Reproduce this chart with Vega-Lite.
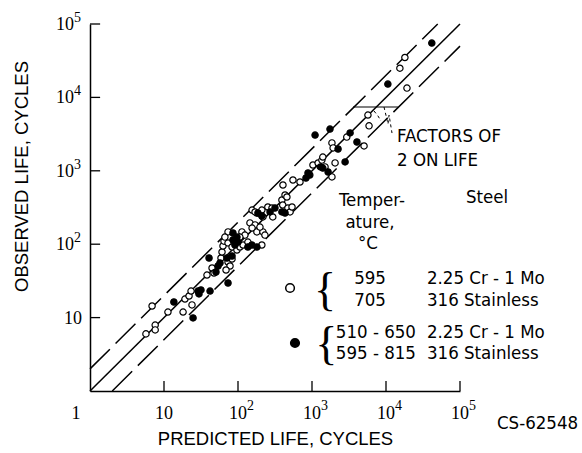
{
  "$schema": "https://vega.github.io/schema/vega-lite/v6.json",
  "width": 370,
  "height": 367,
  "autosize": {"type": "none"},
  "padding": {"left": 90, "top": 24, "right": 122, "bottom": 62},
  "background": "white",
  "config": {
    "view": {"stroke": null},
    "axis": {
      "grid": false,
      "domainColor": "black",
      "domainWidth": 1.5,
      "ticks": false,
      "labels": false,
      "titleColor": "black",
      "titleFont": "Liberation Sans",
      "titleFontSize": 18.5,
      "titleFontWeight": "normal"
    }
  },
  "encoding": {
    "x": {
      "field": "x", "type": "quantitative",
      "scale": {"type": "log", "domain": [1, 100000], "nice": false, "zero": false},
      "axis": {
        "values": [1, 10, 100, 1000, 10000, 100000],
        "title": "PREDICTED LIFE, CYCLES",
        "titleY": 47,
        "titleBaseline": "middle"
      }
    },
    "y": {
      "field": "y", "type": "quantitative",
      "scale": {"type": "log", "domain": [1, 100000], "nice": false, "zero": false},
      "axis": {
        "values": [10, 100, 1000, 10000, 100000],
        "title": "OBSERVED LIFE, CYCLES",
        "titleX": -69,
        "titleY": 152,
        "titleBaseline": "middle",
        "titleAlign": "center"
      }
    }
  },
  "layer": [
    {
      "data": {"values": [
        {"x": 10, "y": 1, "y2": 1.37}, {"x": 100, "y": 1, "y2": 1.37}, {"x": 1000, "y": 1, "y2": 1.37},
        {"x": 10000, "y": 1, "y2": 1.37}, {"x": 100000, "y": 1, "y2": 1.37}
      ]},
      "mark": {"type": "rule", "color": "black", "strokeWidth": 1.3},
      "encoding": {"y2": {"field": "y2"}}
    },
    {
      "data": {"values": [
        {"x": 1, "x2": 1.37, "y": 10}, {"x": 1, "x2": 1.37, "y": 100}, {"x": 1, "x2": 1.37, "y": 1000},
        {"x": 1, "x2": 1.37, "y": 10000}, {"x": 1, "x2": 1.37, "y": 100000}
      ]},
      "mark": {"type": "rule", "color": "black", "strokeWidth": 1.3},
      "encoding": {"x2": {"field": "x2"}}
    },
    {
      "data": {"values": [{"x": 1, "y": 1}, {"x": 100000, "y": 100000}]},
      "mark": {"type": "line", "color": "black", "strokeWidth": 1.5},
      "encoding": {}
    },
    {
      "data": {"values": [
        {"x": 1, "y": 2, "k": "upper"}, {"x": 50000, "y": 100000, "k": "upper"},
        {"x": 2, "y": 1, "k": "lower"}, {"x": 100000, "y": 50000, "k": "lower"}
      ]},
      "mark": {"type": "line", "color": "black", "strokeWidth": 1.5, "strokeDash": [28, 8]},
      "encoding": {"detail": {"field": "k"}}
    },
    {
      "data": {"values": [{"x": 3580, "y": 7400}, {"x": 14500, "y": 7400}]},
      "mark": {"type": "line", "color": "black", "strokeWidth": 1.2},
      "encoding": {}
    },
    {
      "data": {"values": [
        {"x": 9400, "y": 7400, "k": "a"}, {"x": 11000, "y": 5750, "k": "a"}, {"x": 10640, "y": 4340, "k": "a"}, {"x": 12050, "y": 3270, "k": "a"},
        {"x": 6890, "y": 6530, "k": "b"}, {"x": 7800, "y": 5580, "k": "b"}, {"x": 8550, "y": 4770, "k": "b"}
      ]},
      "mark": {"type": "line", "color": "black", "strokeWidth": 1, "strokeDash": [3, 3]},
      "encoding": {"detail": {"field": "k"}}
    },
    {
      "data": {"values": [
        {"x": 5.7, "y": 6.0, "g": "595 / 705"}, {"x": 6.9, "y": 14.4, "g": "595 / 705"}, {"x": 7.6, "y": 7.9, "g": "595 / 705"}, {"x": 7.6, "y": 6.8, "g": "595 / 705"},
        {"x": 11.3, "y": 11.9, "g": "595 / 705"}, {"x": 18.1, "y": 11.9, "g": "595 / 705"}, {"x": 19.2, "y": 17.9, "g": "595 / 705"}, {"x": 21.8, "y": 19.7, "g": "595 / 705"},
        {"x": 23.2, "y": 23.0, "g": "595 / 705"}, {"x": 23.9, "y": 14.9, "g": "595 / 705"}, {"x": 38.1, "y": 38.0, "g": "595 / 705"}, {"x": 44.6, "y": 47.4, "g": "595 / 705"},
        {"x": 58.9, "y": 64.9, "g": "595 / 705"}, {"x": 60.8, "y": 78.3, "g": "595 / 705"}, {"x": 62.7, "y": 94.5, "g": "595 / 705"}, {"x": 64.7, "y": 110, "g": "595 / 705"},
        {"x": 73.3, "y": 57.2, "g": "595 / 705"}, {"x": 78, "y": 50.5, "g": "595 / 705"}, {"x": 83, "y": 62.9, "g": "595 / 705"}, {"x": 68.9, "y": 44.5, "g": "595 / 705"},
        {"x": 47.4, "y": 40.5, "g": "595 / 705"}, {"x": 73.3, "y": 147, "g": "595 / 705"}, {"x": 66.5, "y": 125, "g": "595 / 705"}, {"x": 73.3, "y": 104, "g": "595 / 705"},
        {"x": 83.1, "y": 91.6, "g": "595 / 705"}, {"x": 96.8, "y": 83.4, "g": "595 / 705"}, {"x": 106, "y": 91.6, "g": "595 / 705"}, {"x": 117, "y": 97.6, "g": "595 / 705"},
        {"x": 113, "y": 147, "g": "595 / 705"}, {"x": 124, "y": 133, "g": "595 / 705"}, {"x": 106, "y": 125, "g": "595 / 705"}, {"x": 210, "y": 97.6, "g": "595 / 705"},
        {"x": 136, "y": 107, "g": "595 / 705"}, {"x": 145, "y": 195, "g": "595 / 705"}, {"x": 170, "y": 183, "g": "595 / 705"}, {"x": 155, "y": 166, "g": "595 / 705"},
        {"x": 180, "y": 147, "g": "595 / 705"}, {"x": 217, "y": 147, "g": "595 / 705"}, {"x": 198, "y": 171, "g": "595 / 705"}, {"x": 231, "y": 133, "g": "595 / 705"},
        {"x": 155, "y": 292, "g": "595 / 705"}, {"x": 180, "y": 266, "g": "595 / 705"}, {"x": 210, "y": 292, "g": "595 / 705"}, {"x": 253, "y": 321, "g": "595 / 705"},
        {"x": 170, "y": 275, "g": "595 / 705"}, {"x": 217, "y": 235, "g": "595 / 705"}, {"x": 288, "y": 311, "g": "595 / 705"}, {"x": 295, "y": 235, "g": "595 / 705"},
        {"x": 392, "y": 400, "g": "595 / 705"}, {"x": 402, "y": 342, "g": "595 / 705"}, {"x": 472, "y": 311, "g": "595 / 705"}, {"x": 505, "y": 275, "g": "595 / 705"},
        {"x": 405, "y": 641, "g": "595 / 705"}, {"x": 553, "y": 750, "g": "595 / 705"}, {"x": 688, "y": 703, "g": "595 / 705"}, {"x": 432, "y": 468, "g": "595 / 705"},
        {"x": 537, "y": 321, "g": "595 / 705"}, {"x": 458, "y": 440, "g": "595 / 705"}, {"x": 1030, "y": 1200, "g": "595 / 705"}, {"x": 1210, "y": 1277, "g": "595 / 705"},
        {"x": 1360, "y": 1400, "g": "595 / 705"}, {"x": 1400, "y": 1540, "g": "595 / 705"}, {"x": 1500, "y": 1130, "g": "595 / 705"}, {"x": 2050, "y": 1280, "g": "595 / 705"},
        {"x": 1860, "y": 825, "g": "595 / 705"}, {"x": 1860, "y": 2400, "g": "595 / 705"}, {"x": 1930, "y": 2050, "g": "595 / 705"}, {"x": 2950, "y": 2880, "g": "595 / 705"},
        {"x": 5050, "y": 2180, "g": "595 / 705"}, {"x": 5700, "y": 5750, "g": "595 / 705"}, {"x": 5900, "y": 4100, "g": "595 / 705"}, {"x": 19200, "y": 13400, "g": "595 / 705"},
        {"x": 15400, "y": 25000, "g": "595 / 705"}, {"x": 18000, "y": 35000, "g": "595 / 705"},
        {"x": 13.6, "y": 16.3, "g": "510-650 / 595-815"}, {"x": 24.7, "y": 9.9, "g": "510-650 / 595-815"}, {"x": 28.8, "y": 23, "g": "510-650 / 595-815"}, {"x": 31.6, "y": 23.8, "g": "510-650 / 595-815"},
        {"x": 29.7, "y": 21, "g": "510-650 / 595-815"}, {"x": 41.9, "y": 23, "g": "510-650 / 595-815"}, {"x": 40.6, "y": 64.9, "g": "510-650 / 595-815"}, {"x": 73.3, "y": 29.6, "g": "510-650 / 595-815"},
        {"x": 57.1, "y": 55.5, "g": "510-650 / 595-815"}, {"x": 53.7, "y": 50.5, "g": "510-650 / 595-815"}, {"x": 85.5, "y": 142, "g": "510-650 / 595-815"}, {"x": 96.8, "y": 125, "g": "510-650 / 595-815"},
        {"x": 85.5, "y": 114, "g": "510-650 / 595-815"}, {"x": 100, "y": 107, "g": "510-650 / 595-815"}, {"x": 90.9, "y": 97.6, "g": "510-650 / 595-815"}, {"x": 136, "y": 91.6, "g": "510-650 / 595-815"},
        {"x": 154, "y": 97.6, "g": "510-650 / 595-815"}, {"x": 180, "y": 91.6, "g": "510-650 / 595-815"}, {"x": 186, "y": 266, "g": "510-650 / 595-815"}, {"x": 210, "y": 242, "g": "510-650 / 595-815"},
        {"x": 71, "y": 64.9, "g": "510-650 / 595-815"}, {"x": 83, "y": 69, "g": "510-650 / 595-815"}, {"x": 50.4, "y": 41.8, "g": "510-650 / 595-815"}, {"x": 316, "y": 311, "g": "510-650 / 595-815"},
        {"x": 392, "y": 275, "g": "510-650 / 595-815"}, {"x": 432, "y": 266, "g": "510-650 / 595-815"}, {"x": 271, "y": 275, "g": "510-650 / 595-815"}, {"x": 883, "y": 933, "g": "510-650 / 595-815"},
        {"x": 934, "y": 877, "g": "510-650 / 595-815"}, {"x": 829, "y": 798, "g": "510-650 / 595-815"}, {"x": 1400, "y": 1090, "g": "510-650 / 595-815"}, {"x": 1300, "y": 1130, "g": "510-650 / 595-815"},
        {"x": 1650, "y": 964, "g": "510-650 / 595-815"}, {"x": 2250, "y": 1980, "g": "510-650 / 595-815"}, {"x": 2800, "y": 1320, "g": "510-650 / 595-815"}, {"x": 3270, "y": 3280, "g": "510-650 / 595-815"},
        {"x": 4050, "y": 2470, "g": "510-650 / 595-815"}, {"x": 1100, "y": 3070, "g": "510-650 / 595-815"}, {"x": 1750, "y": 3700, "g": "510-650 / 595-815"}, {"x": 10600, "y": 15200, "g": "510-650 / 595-815"},
        {"x": 41600, "y": 55000, "g": "510-650 / 595-815"}
      ]},
      "mark": {"type": "point", "shape": "circle", "filled": true, "size": 40, "stroke": "black", "strokeWidth": 1.2, "opacity": 1},
      "encoding": {
        "fill": {"field": "g", "type": "nominal", "scale": {"domain": ["595 / 705", "510-650 / 595-815"], "range": ["white", "black"]}, "legend": null}
      }
    },
    {
      "data": {"values": [
        {"x": 505, "y": 25.3, "g": "595 / 705"},
        {"x": 589, "y": 4.51, "g": "510-650 / 595-815"}
      ]},
      "mark": {"type": "point", "shape": "circle", "filled": true, "size": 75, "stroke": "black", "strokeWidth": 1.5, "opacity": 1},
      "encoding": {
        "fill": {"field": "g", "type": "nominal", "scale": {"domain": ["595 / 705", "510-650 / 595-815"], "range": ["white", "black"]}, "legend": null}
      }
    },
    {
      "data": {"values": [
        {"x": 1500, "y": 23.0, "t": "{"},
        {"x": 1560, "y": 4.23, "t": "{"}
      ]},
      "mark": {"type": "text", "font": "Liberation Serif", "fontSize": 46, "align": "center", "baseline": "middle", "color": "black"},
      "encoding": {"text": {"field": "t"}}
    },
    {
      "data": {"values": [
        {"x": 6470, "y": 400, "t": "Temper-"},
        {"x": 6080, "y": 200, "t": "ature,"},
        {"x": 5710, "y": 104, "t": "°C"},
        {"x": 232000, "y": 440, "t": "Steel"},
        {"x": 6080, "y": 34.6, "t": "595"},
        {"x": 6080, "y": 17.4, "t": "705"}
      ]},
      "mark": {"type": "text", "font": "DejaVu Sans Condensed", "fontSize": 18.5, "align": "center", "baseline": "middle", "color": "black"},
      "encoding": {"text": {"field": "t"}}
    },
    {
      "data": {"values": [
        {"x": 35800, "y": 34.6, "t": "2.25 Cr - 1 Mo"},
        {"x": 35800, "y": 17.4, "t": "316 Stainless"},
        {"x": 2100, "y": 6.37, "t": "510 - 650"},
        {"x": 2100, "y": 3.29, "t": "595 - 815"},
        {"x": 35800, "y": 6.37, "t": "2.25 Cr - 1 Mo"},
        {"x": 35800, "y": 3.29, "t": "316 Stainless"},
        {"x": 14100, "y": 2980, "t": "FACTORS OF"},
        {"x": 14100, "y": 1404, "t": "2 ON LIFE"},
        {"x": 316000, "y": 0.366, "t": "CS-62548"}
      ]},
      "mark": {"type": "text", "font": "DejaVu Sans Condensed", "fontSize": 18.5, "align": "left", "baseline": "middle", "color": "black"},
      "encoding": {"text": {"field": "t"}}
    },
    {
      "data": {"values": [{"x": 1, "y": 1, "t": "1"}]},
      "mark": {"type": "text", "font": "Liberation Serif", "fontSize": 18, "align": "center", "baseline": "middle", "dx": -14, "dy": 23, "color": "black"},
      "encoding": {"text": {"field": "t"}}
    },
    {
      "data": {"values": [
        {"x": 10, "y": 1, "t": "10"}, {"x": 100, "y": 1, "t": "10"}, {"x": 1000, "y": 1, "t": "10"},
        {"x": 10000, "y": 1, "t": "10"}, {"x": 100000, "y": 1, "t": "10"}
      ]},
      "mark": {"type": "text", "font": "Liberation Serif", "fontSize": 18, "align": "center", "baseline": "middle", "dy": 23, "color": "black"},
      "encoding": {"text": {"field": "t"}}
    },
    {
      "data": {"values": [
        {"x": 100, "y": 1, "t": "2"}, {"x": 1000, "y": 1, "t": "3"},
        {"x": 10000, "y": 1, "t": "4"}, {"x": 100000, "y": 1, "t": "5"}
      ]},
      "mark": {"type": "text", "font": "Liberation Serif", "fontSize": 14, "align": "left", "baseline": "middle", "dx": 9, "dy": 15, "color": "black"},
      "encoding": {"text": {"field": "t"}}
    },
    {
      "data": {"values": [{"x": 1, "y": 10, "t": "10"}]},
      "mark": {"type": "text", "font": "Liberation Serif", "fontSize": 18, "align": "right", "baseline": "middle", "dx": -8, "dy": 1, "color": "black"},
      "encoding": {"text": {"field": "t"}}
    },
    {
      "data": {"values": [
        {"x": 1, "y": 100, "t": "10"}, {"x": 1, "y": 1000, "t": "10"},
        {"x": 1, "y": 10000, "t": "10"}, {"x": 1, "y": 100000, "t": "10"}
      ]},
      "mark": {"type": "text", "font": "Liberation Serif", "fontSize": 18, "align": "right", "baseline": "middle", "dx": -16, "dy": 1, "color": "black"},
      "encoding": {"text": {"field": "t"}}
    },
    {
      "data": {"values": [
        {"x": 1, "y": 100, "t": "2"}, {"x": 1, "y": 1000, "t": "3"},
        {"x": 1, "y": 10000, "t": "4"}, {"x": 1, "y": 100000, "t": "5"}
      ]},
      "mark": {"type": "text", "font": "Liberation Serif", "fontSize": 14, "align": "left", "baseline": "middle", "dx": -16, "dy": -6, "color": "black"},
      "encoding": {"text": {"field": "t"}}
    }
  ]
}
